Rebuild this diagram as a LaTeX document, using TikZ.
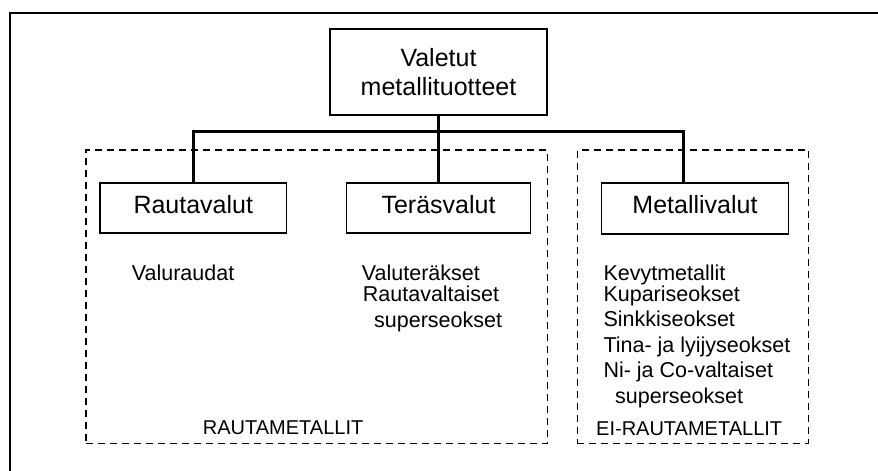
\documentclass[tikz,border=0pt]{standalone}
\usepackage{fontspec}
\setmainfont{Liberation Sans}
\begin{document}
\begin{tikzpicture}[x=1pt,y=-1pt,
  big/.style={font=\fontsize{25}{28.5}\selectfont},
  small/.style={font=\fontsize{21.5}{24.6}\selectfont},
  caps/.style={font=\fontsize{20}{24}\selectfont, anchor=base west, inner sep=0pt},
  lbl/.style={small, anchor=base west, inner sep=0pt},
  box/.style={draw, line width=1.3pt, big, inner sep=0pt, text height=18pt, text depth=8pt},
  topbox/.style={draw, line width=1.3pt, big, inner sep=0pt, align=center},
  group/.style={draw, dash pattern=on 7pt off 5pt, line width=1.3pt, inner sep=0pt},
  link/.style={line width=3pt}]
\useasboundingbox (0,0) rectangle (878,471);
\fill[white] (0,0) rectangle (878,471);
% outer frame
\draw[line width=1.3pt] (10,480) -- (10,13) -- (890,13);
% groups
\node[group, minimum width=461.3pt, minimum height=293.3pt] (ferr) at (316.7,296.7) {};
\node[group, minimum width=231pt, minimum height=293.3pt] (nonferr) at (692.7,296.7) {};
% boxes
\node[topbox, minimum width=217pt, minimum height=86pt] (top) at (438.5,72) {Valetut\\metallituotteet};
\node[box, minimum width=186.7pt, minimum height=50pt] (raut) at (193.3,208) {Rautavalut};
\node[box, minimum width=184pt, minimum height=50pt] (ter) at (438.5,208) {Teräsvalut};
\node[box, minimum width=186.7pt, minimum height=51pt] (metal) at (695,208.5) {Metallivalut};
% connectors
\coordinate (bus) at (438.5,131);
\draw[link] (top.south) -- (ter.north);
\draw[link] (raut.north) |- (bus) -| ([xshift=-12pt]metal.north);
% texts
\node[lbl] (t1) at (131.7,280.7) {Valuraudat};
\node[lbl] (t2) at (361.7,280) {Valuteräkset};
\node[lbl] (t3) at (362.7,301.7) {Rautavaltaiset};
\node[lbl] (t4) at (374,327) {superseokset};
\node[lbl] (m1) at (603.3,280) {Kevytmetallit};
\node[lbl] (m2) at (603.3,301.7) {Kupariseokset};
\node[lbl] (m3) at (603.3,326.7) {Sinkkiseokset};
\node[lbl] (m4) at (603.3,352) {Tina- ja lyijyseokset};
\node[lbl] (m5) at (603.3,377) {Ni- ja Co-valtaiset};
\node[lbl] (m6) at (615,403) {superseokset};
\node[caps] (g1) at (202.7,434) {RAUTAMETALLIT};
\node[caps] (g2) at (596,435) {EI-RAUTAMETALLIT};
\end{tikzpicture}
\end{document}
